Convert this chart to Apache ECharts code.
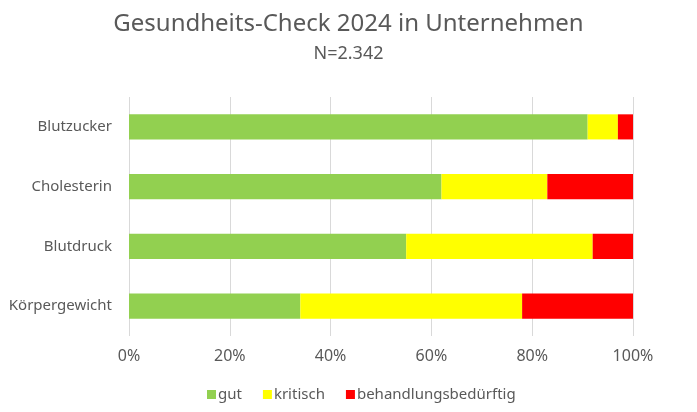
<!DOCTYPE html>
<html>
<head>
<meta charset="utf-8">
<script src="https://cdn.jsdelivr.net/npm/echarts@6/dist/echarts.min.js"></script>
<style>html,body{margin:0;padding:0;background:#fff}#c{width:697px;height:412px}</style>
</head>
<body>
<div id="c"></div>
<script>
const categories = ['Körpergewicht', 'Blutdruck', 'Cholesterin', 'Blutzucker'];
const gut = [34, 55, 62, 91];
const kritisch = [44, 37, 21, 6];
const behandlungsbeduerftig = [22, 8, 17, 3];
const xTicks = [0, 20, 40, 60, 80, 100];

const font = '"Noto Sans", sans-serif';
const chart = echarts.init(document.getElementById('c'));
const mk = (name, data, color) => ({
  name, type: 'bar', stack: 'a', data, barWidth: '42%',
  itemStyle: { color }, emphasis: { disabled: true }
});
chart.setOption({
  animation: false,
  textStyle: { fontFamily: font },
  title: {
    text: 'Gesundheits-Check 2024 in Unternehmen',
    subtext: 'N=2.342',
    left: 'center', top: 7, itemGap: 9,
    textStyle: { fontSize: 24, fontWeight: 'normal', color: '#595959', fontFamily: font },
    subtextStyle: { fontSize: 18, color: '#595959', fontFamily: font }
  },
  legend: {
    bottom: 5, left: 202, itemWidth: 9, itemHeight: 9, itemGap: 21,
    icon: 'rect',
    textStyle: { fontSize: 15, color: '#595959', fontFamily: font, padding: [0, 0, 0, -3] },
    data: ['gut', 'kritisch', 'behandlungsbedürftig']
  },
  grid: { left: 129, right: 64, top: 97, bottom: 76, containLabel: false },
  xAxis: {
    type: 'value', min: 0, max: 100, interval: 20,
    data: xTicks,
    axisLabel: { formatter: v => v + '%', fontSize: 16, color: '#595959', margin: 12 },
    splitLine: { lineStyle: { color: '#d9d9d9', width: 1 } },
    axisLine: { show: false }, axisTick: { show: false }
  },
  yAxis: {
    type: 'category', data: categories,
    axisLabel: { fontSize: 15, color: '#595959', margin: 17 },
    axisLine: { show: false }, axisTick: { show: false }
  },
  series: [
    mk('gut', gut, '#92D050'),
    mk('kritisch', kritisch, '#FFFF00'),
    mk('behandlungsbedürftig', behandlungsbeduerftig, '#FF0000')
  ]
});
</script>
</body>
</html>
